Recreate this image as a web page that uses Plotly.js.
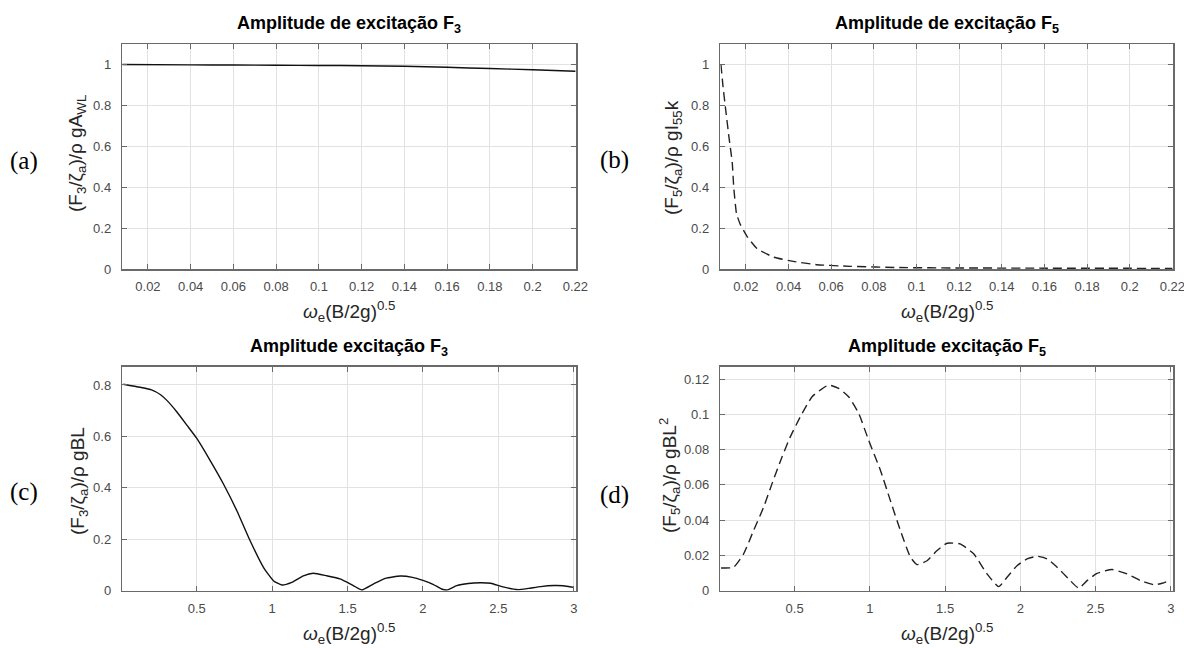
<!DOCTYPE html>
<html>
<head>
<meta charset="utf-8">
<script src="https://cdn.plot.ly/plotly-3.0.1.min.js"></script>
<style>html,body{margin:0;padding:0;background:#fff;}#chart{width:1184px;height:648px;}</style>
</head>
<body>
<div id="chart"></div>
<script>
// ---- data ----
const xA = [0.008, 0.04, 0.06, 0.08, 0.10, 0.12, 0.14, 0.16, 0.18, 0.20, 0.22];
const yA = [1.000, 0.998, 0.997, 0.996, 0.995, 0.994, 0.991, 0.986, 0.980, 0.974, 0.967];

const xB = [0.0083, 0.0093, 0.0104, 0.012, 0.0136, 0.0143, 0.0156, 0.0173, 0.0205, 0.0252, 0.033, 0.0423, 0.0532, 0.069, 0.092, 0.12, 0.16, 0.22];
const yB = [1.0, 0.89, 0.79, 0.65, 0.52, 0.40, 0.27, 0.22, 0.16, 0.10, 0.058, 0.037, 0.021, 0.013, 0.007, 0.005, 0.004, 0.003];

const xC = [0.013, 0.124, 0.20, 0.26, 0.30, 0.367, 0.434, 0.50, 0.588, 0.676, 0.765, 0.853, 0.942, 1.008, 1.064, 1.13, 1.207, 1.273, 1.362, 1.45, 1.538, 1.594, 1.671, 1.75, 1.85, 1.93, 2.0, 2.07, 2.123, 2.16, 2.224, 2.30, 2.38, 2.45, 2.524, 2.63, 2.70, 2.78, 2.87, 2.93, 3.0];
const yC = [0.803, 0.791, 0.781, 0.762, 0.741, 0.696, 0.644, 0.592, 0.507, 0.416, 0.312, 0.195, 0.091, 0.039, 0.022, 0.032, 0.058, 0.068, 0.058, 0.046, 0.020, 0.003, 0.026, 0.048, 0.057, 0.052, 0.040, 0.024, 0.0066, 0.003, 0.0195, 0.028, 0.031, 0.029, 0.0156, 0.004, 0.009, 0.016, 0.020, 0.019, 0.013];

const xD = [0.011, 0.094, 0.161, 0.227, 0.294, 0.35, 0.416, 0.471, 0.538, 0.616, 0.671, 0.726, 0.793, 0.859, 0.926, 0.992, 1.07, 1.136, 1.203, 1.27, 1.314, 1.38, 1.447, 1.513, 1.60, 1.69, 1.779, 1.856, 1.912, 1.978, 2.045, 2.112, 2.178, 2.245, 2.322, 2.388, 2.444, 2.51, 2.61, 2.71, 2.80, 2.887, 2.943, 3.0];
const yD = [0.0129, 0.0133, 0.0209, 0.0341, 0.0474, 0.0607, 0.0758, 0.0872, 0.0986, 0.110, 0.1138, 0.1166, 0.1147, 0.110, 0.1005, 0.0853, 0.0683, 0.0512, 0.0341, 0.019, 0.0148, 0.017, 0.0228, 0.0269, 0.0265, 0.0209, 0.0095, 0.0023, 0.0076, 0.0142, 0.018, 0.0195, 0.018, 0.0133, 0.0066, 0.0015, 0.0057, 0.0098, 0.012, 0.0095, 0.0057, 0.0034, 0.0042, 0.0061];

// ---- tick labels ----
const xTickSmallVals = [0.02, 0.04, 0.06, 0.08, 0.1, 0.12, 0.14, 0.16, 0.18, 0.2, 0.22];
const xTickSmallText = ["0.02", "0.04", "0.06", "0.08", "0.1", "0.12", "0.14", "0.16", "0.18", "0.2", "0.22"];
const xTickBigVals = [0.5, 1, 1.5, 2, 2.5, 3];
const xTickBigText = ["0.5", "1", "1.5", "2", "2.5", "3"];
const yTickABVals = [0, 0.2, 0.4, 0.6, 0.8, 1];
const yTickABText = ["0", "0.2", "0.4", "0.6", "0.8", "1"];
const yTickCVals = [0, 0.2, 0.4, 0.6, 0.8];
const yTickCText = ["0", "0.2", "0.4", "0.6", "0.8"];
const yTickDVals = [0, 0.02, 0.04, 0.06, 0.08, 0.1, 0.12];
const yTickDText = ["0", "0.02", "0.04", "0.06", "0.08", "0.1", "0.12"];

// ---- texts ----
const titles = ["Amplitude de excitação F<sub>3</sub>", "Amplitude de excitação F<sub>5</sub>", "Amplitude excitação F<sub>3</sub>", "Amplitude excitação F<sub>5</sub>"];
const yTitles = ["(F<sub>3</sub>/ζ<sub>a</sub>)/ρ gA<sub>WL</sub>", "(F<sub>5</sub>/ζ<sub>a</sub>)/ρ gI<sub>55</sub>k", "(F<sub>3</sub>/ζ<sub>a</sub>)/ρ gBL", "(F<sub>5</sub>/ζ<sub>a</sub>)/ρ gBL<sup>2</sup>"];
const xTitle = "<i>ω</i><sub>e</sub>(B/2g)<sup>0.5</sup>";
const panelLabels = ["(a)", "(b)", "(c)", "(d)"];

const W = 1184, H = 648;
const px = v => v / W;
const py = v => 1 - v / H;

const lineCol = "#6a6a6a";
const tickFont = {family: "Liberation Sans, Arial, sans-serif", size: 13, color: "#4a4a4a"};

function xAx(domL, domR, range, vals, text, anchor) {
  return {domain: [px(domL), px(domR)], range: range, anchor: anchor,
    tickmode: "array", tickvals: vals, ticktext: text,
    ticks: "inside", ticklen: 5, tickwidth: 1, tickcolor: lineCol,
    showline: true, linecolor: lineCol, linewidth: 1.5, mirror: "ticks",
    showgrid: true, gridcolor: "#e2e2e2", gridwidth: 1, zeroline: false,
    tickfont: tickFont, ticklabelstandoff: 5, ticklabeloverflow: "allow", fixedrange: true};
}
function yAx(domB, domT, range, vals, text, anchor) {
  return {domain: [py(domB), py(domT)], range: range, anchor: anchor,
    tickmode: "array", tickvals: vals, ticktext: text,
    ticks: "inside", ticklen: 5, tickwidth: 1, tickcolor: lineCol,
    showline: true, linecolor: lineCol, linewidth: 1.5, mirror: "ticks",
    showgrid: true, gridcolor: "#e2e2e2", gridwidth: 1, zeroline: false,
    tickfont: tickFont, ticklabelstandoff: 7, fixedrange: true};
}

const traces = [
  {x: xA, y: yA, xaxis: "x", yaxis: "y", mode: "lines", line: {color: "#111", width: 1.4, shape: "spline", smoothing: 0.6}},
  {x: xB, y: yB, xaxis: "x2", yaxis: "y2", mode: "lines", line: {color: "#222", width: 1.4, dash: "9px,5px", shape: "spline", smoothing: 0.4}},
  {x: xC, y: yC, xaxis: "x3", yaxis: "y3", mode: "lines", line: {color: "#111", width: 1.4, shape: "spline", smoothing: 0.5}},
  {x: xD, y: yD, xaxis: "x4", yaxis: "y4", mode: "lines", line: {color: "#222", width: 1.4, dash: "9px,5px", shape: "spline", smoothing: 0.5}}
];

const titleFont = {family: "Liberation Sans, Arial, sans-serif", size: 18, color: "#000"};
const axTitleFont = {family: "Liberation Sans, Arial, sans-serif", size: 19, color: "#262626"};
const panelFont = {family: "Liberation Serif, Times New Roman, serif", size: 25, color: "#000"};

const ann = [];
const titlePos = [[349, 25], [947, 25], [349, 347], [947, 347]];
titles.forEach((t, i) => ann.push({text: "<b>" + t + "</b>", x: px(titlePos[i][0]), y: py(titlePos[i][1]), xref: "paper", yref: "paper", xanchor: "center", yanchor: "middle", showarrow: false, font: titleFont}));
const xtPos = [[349, 311], [947, 311], [349, 633], [947, 633]];
xtPos.forEach(p => ann.push({text: xTitle, x: px(p[0]), y: py(p[1]), xref: "paper", yref: "paper", xanchor: "center", yanchor: "middle", showarrow: false, font: axTitleFont}));
const ytPos = [[77, 154], [673, 158], [79, 481], [669, 476]];
yTitles.forEach((t, i) => ann.push({text: t, x: px(ytPos[i][0]), y: py(ytPos[i][1]), xref: "paper", yref: "paper", xanchor: "center", yanchor: "middle", textangle: -90, showarrow: false, font: axTitleFont}));
const plPos = [[23.5, 161], [614.6, 160], [23.6, 492], [614.6, 495]];
panelLabels.forEach((t, i) => ann.push({text: t, x: px(plPos[i][0]), y: py(plPos[i][1]), xref: "paper", yref: "paper", xanchor: "center", yanchor: "middle", showarrow: false, font: panelFont}));

const layout = {
  width: W, height: H,
  margin: {l: 0, r: 0, t: 0, b: 0},
  paper_bgcolor: "#fff", plot_bgcolor: "#fff",
  showlegend: false,
  xaxis:  xAx(122.3, 576, [0.008, 0.2203], xTickSmallVals, xTickSmallText, "y"),
  yaxis:  yAx(269, 44, [0, 1.1], yTickABVals, yTickABText, "x"),
  xaxis2: xAx(720.3, 1173, [0.008, 0.2203], xTickSmallVals, xTickSmallText, "y2"),
  yaxis2: yAx(269, 44, [0, 1.1], yTickABVals, yTickABText, "x2"),
  xaxis3: xAx(122.3, 576, [0.006, 3.015], xTickBigVals, xTickBigText, "y3"),
  yaxis3: yAx(590.7, 366.7, [0, 0.871], yTickCVals, yTickCText, "x3"),
  xaxis4: xAx(720.3, 1173, [0.006, 3.015], xTickBigVals, xTickBigText, "y4"),
  yaxis4: yAx(590.7, 366.7, [0, 0.127], yTickDVals, yTickDText, "x4"),
  annotations: ann
};

Plotly.newPlot("chart", traces, layout, {staticPlot: true, displayModeBar: false});
</script>
</body>
</html>
